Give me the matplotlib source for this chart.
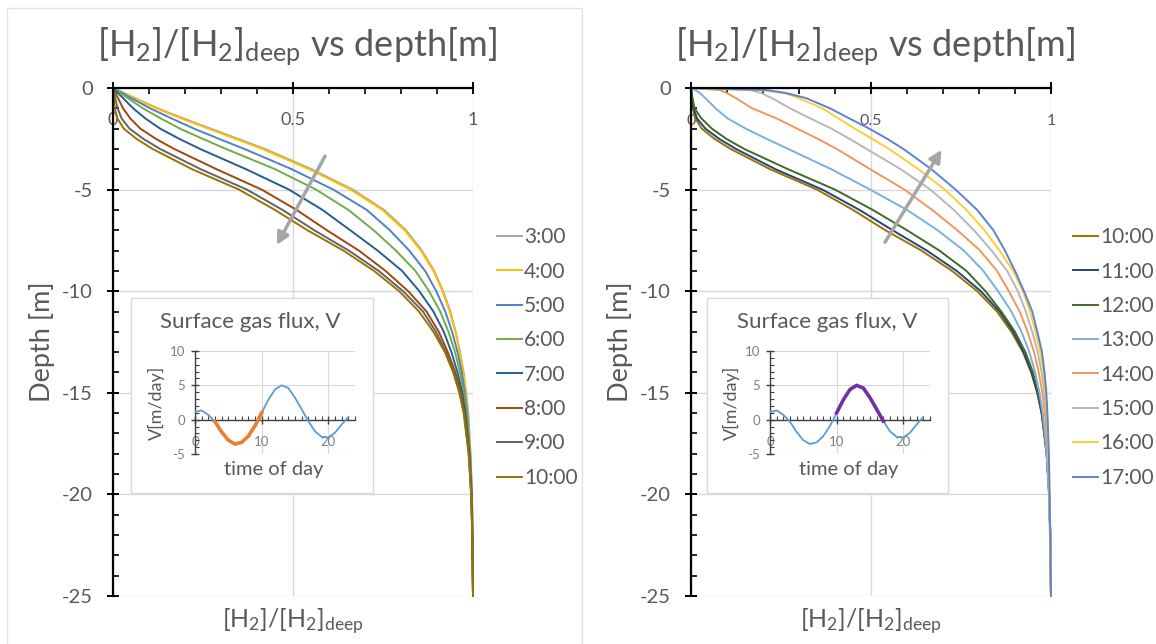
import matplotlib
matplotlib.use('Agg')
import matplotlib.pyplot as plt
from matplotlib.patches import Rectangle
from matplotlib.ticker import MultipleLocator

plt.rcParams['font.family'] = ['Lato', 'DejaVu Sans']
plt.rcParams['mathtext.default'] = 'regular'
plt.rcParams['axes.unicode_minus'] = False

# - Data
depth = [0, -0.1, -0.25, -0.5, -1, -1.5, -2, -2.5, -3, -4, -5, -6, -7, -8, -9,
         -10, -11, -12, -13, -14, -15, -16, -18, -20, -22, -25]

left_labels = ['3:00', '4:00', '5:00', '6:00', '7:00', '8:00', '9:00', '10:00']
h2_0300 = [0, 0.013, 0.031, 0.062, 0.124, 0.196, 0.271, 0.347, 0.422, 0.552, 0.666, 0.753, 0.814,
           0.858, 0.892, 0.917, 0.937, 0.952, 0.964, 0.974, 0.981, 0.987, 0.993, 0.997, 0.999, 1.0]
h2_0400 = [0, 0.012, 0.03, 0.06, 0.12, 0.19, 0.265, 0.34, 0.415, 0.545, 0.66, 0.748, 0.81,
           0.855, 0.89, 0.915, 0.935, 0.951, 0.963, 0.973, 0.98, 0.986, 0.993, 0.997, 0.999, 1.0]
h2_0500 = [0, 0.010, 0.026, 0.051, 0.103, 0.163, 0.225, 0.294, 0.365, 0.497, 0.612, 0.705, 0.769,
           0.823, 0.867, 0.898, 0.923, 0.942, 0.957, 0.969, 0.977, 0.984, 0.992, 0.997, 0.999, 1.0]
h2_0600 = [0, 0.008, 0.021, 0.041, 0.083, 0.133, 0.186, 0.249, 0.314, 0.451, 0.564, 0.654, 0.724,
           0.786, 0.84, 0.878, 0.909, 0.932, 0.95, 0.964, 0.974, 0.982, 0.991, 0.996, 0.999, 1.0]
h2_0700 = [0, 0.0055, 0.014, 0.028, 0.056, 0.09, 0.131, 0.184, 0.242, 0.37, 0.489, 0.582, 0.659,
           0.735, 0.803, 0.851, 0.89, 0.919, 0.94, 0.957, 0.97, 0.979, 0.99, 0.996, 0.998, 1.0]
h2_0800 = [0, 0.0028, 0.007, 0.014, 0.028, 0.048, 0.076, 0.119, 0.17, 0.288, 0.413, 0.51, 0.594,
           0.683, 0.757, 0.82, 0.871, 0.905, 0.93, 0.951, 0.966, 0.976, 0.989, 0.995, 0.998, 1.0]
h2_0900 = [0, 0.0013, 0.003, 0.006, 0.013, 0.024, 0.046, 0.084, 0.131, 0.244, 0.372, 0.471, 0.559,
           0.655, 0.738, 0.806, 0.861, 0.897, 0.925, 0.947, 0.963, 0.975, 0.988, 0.995, 0.998, 1.0]
h2_1000 = [0, 0.0005, 0.001, 0.002, 0.005, 0.012, 0.03, 0.065, 0.11, 0.22, 0.35, 0.45, 0.54,
           0.64, 0.725, 0.795, 0.85, 0.89, 0.922, 0.945, 0.962, 0.974, 0.988, 0.995, 0.998, 1.0]

right_labels = ['10:00', '11:00', '12:00', '13:00', '14:00', '15:00', '16:00', '17:00']
h2_1100 = [0, 0.0005, 0.001, 0.003, 0.007, 0.017, 0.04, 0.078, 0.125, 0.235, 0.365, 0.468, 0.56,
           0.655, 0.738, 0.805, 0.857, 0.895, 0.924, 0.946, 0.962, 0.974, 0.988, 0.995, 0.998, 1.0]
h2_1200 = [0, 0.001, 0.002, 0.004, 0.01, 0.029, 0.058, 0.098, 0.148, 0.27, 0.4, 0.505, 0.6,
           0.69, 0.765, 0.818, 0.862, 0.9, 0.929, 0.95, 0.964, 0.975, 0.988, 0.995, 0.998, 1.0]
h2_1300 = [0, 0.012, 0.025, 0.04, 0.068, 0.102, 0.152, 0.21, 0.27, 0.39, 0.498, 0.6, 0.685,
           0.758, 0.812, 0.853, 0.89, 0.918, 0.94, 0.956, 0.968, 0.977, 0.988, 0.994, 0.997, 1.0]
h2_1400 = [0, 0.08, 0.1, 0.125, 0.17, 0.238, 0.295, 0.352, 0.405, 0.498, 0.593, 0.67, 0.74,
           0.803, 0.85, 0.883, 0.913, 0.935, 0.953, 0.966, 0.976, 0.983, 0.991, 0.995, 0.998, 1.0]
h2_1500 = [0, 0.165, 0.195, 0.225, 0.275, 0.332, 0.39, 0.44, 0.488, 0.583, 0.665, 0.73, 0.786,
           0.835, 0.878, 0.908, 0.93, 0.948, 0.963, 0.974, 0.982, 0.987, 0.992, 0.995, 0.998, 1.0]
h2_1600 = [0, 0.19, 0.26, 0.30, 0.365, 0.41, 0.455, 0.503, 0.55, 0.632, 0.705, 0.765, 0.815,
           0.857, 0.895, 0.922, 0.942, 0.957, 0.97, 0.979, 0.985, 0.989, 0.993, 0.996, 0.998, 1.0]
h2_1700 = [0, 0.21, 0.265, 0.32, 0.386, 0.44, 0.495, 0.545, 0.59, 0.668, 0.735, 0.795, 0.84,
           0.872, 0.90, 0.925, 0.948, 0.962, 0.975, 0.982, 0.987, 0.99, 0.994, 0.996, 0.998, 1.0]

# surface gas flux V [m/day] for each hour of the day
hours = list(range(24))
flux = [1.1, 1.35, 0.7, -0.3, -1.8, -3.0, -3.55, -3.3, -2.4, -0.9, 1.0, 2.9,
        4.4, 5.0, 4.6, 3.2, 1.5, -0.2, -1.7, -2.5, -2.6, -1.9, -0.7, 0.4]

# arrows showing the time direction (tail, head) in data units
left_arrow = [(0.589, -3.35), (0.455, -7.73)]
right_arrow = [(0.539, -7.59), (0.696, -3.04)]

left_colors = ['#A5A5A5', '#FFC000', '#4F81CD', '#70AD47', '#255E91', '#9E480E', '#636363', '#997300']
right_colors = ['#997300', '#264478', '#43682B', '#7CAFDD', '#F1975A', '#B7B7B7', '#FFCD33', '#5B83D0']

TXT = '#595959'
GRID = '#D9D9D9'
W, H = 1156, 644
title = r'[H$_{2}$]/[H$_{2}$]$_{deep}$ vs depth[m]'
xlab = r'[H$_{2}$]/[H$_{2}$]$_{deep}$'

fig = plt.figure(figsize=(W / 100, H / 100), dpi=100)


def frac(x0, y0, x1, y1):
    # pixel box -> figure fraction
    return [x0 / W, 1 - y1 / H, (x1 - x0) / W, (y1 - y0) / H]


def main_panel(rect, labels, profiles, colors, tick_fs, leg_x, arrow):
    ax = fig.add_axes(rect)
    for lab, xs, c in zip(labels, profiles, colors):
        ax.plot(xs, depth, color=c, lw=1.4, label=lab, clip_on=False, zorder=3)
    ax.set_xlim(0, 1)
    ax.set_ylim(-25, 0)
    ax.spines['right'].set_visible(False)
    ax.spines['bottom'].set_visible(False)
    for s in ('top', 'left'):
        ax.spines[s].set_linewidth(1.6)
        ax.spines[s].set_zorder(4)
    ax.xaxis.set_major_locator(MultipleLocator(0.5))
    ax.xaxis.set_minor_locator(MultipleLocator(0.1))
    ax.yaxis.set_major_locator(MultipleLocator(5))
    ax.yaxis.set_minor_locator(MultipleLocator(1))
    ax.xaxis.set_major_formatter(lambda v, p: f'{v:g}')
    ax.tick_params(axis='x', which='both', top=True, bottom=False, labeltop=True, labelbottom=False)
    ax.tick_params(axis='x', which='major', direction='inout', length=9, width=1.4,
                   pad=-33, labelsize=tick_fs, labelcolor=TXT)
    ax.tick_params(axis='x', which='minor', direction='in', length=4, width=1.2)
    ax.tick_params(axis='y', which='major', direction='inout', length=9, width=1.4,
                   pad=10, labelsize=14.5, labelcolor=TXT)
    ax.tick_params(axis='y', which='minor', direction='in', length=4, width=1.2)
    ax.grid(True, which='major', color=GRID, lw=1)
    ax.set_axisbelow(True)
    ax.text(0.51, 1.082, title, transform=ax.transAxes, ha='center', va='center',
            fontsize=26, color=TXT)
    ax.set_ylabel('Depth [m]', fontsize=19.5, color=TXT)
    ax.yaxis.set_label_coords(-0.16, 0.5)
    ax.set_xlabel(xlab, fontsize=18, color=TXT)
    ax.xaxis.set_label_coords(0.5, -0.022)
    ax.legend(loc='upper left', bbox_to_anchor=(leg_x, 0.726), frameon=False, fontsize=15,
              labelcolor=TXT, handlelength=1.2, handletextpad=0.1, labelspacing=0.69,
              borderaxespad=0, borderpad=0)
    ax.annotate('', xy=arrow[1], xytext=arrow[0],
                arrowprops=dict(arrowstyle='-|>', color='#A6A6A6', lw=2.5,
                                mutation_scale=18, shrinkA=0, shrinkB=0))
    return ax


def inset(box, inner, t0, t1, hcolor, title_x):
    fig.add_artist(Rectangle((box[0], box[1]), box[2], box[3], transform=fig.transFigure,
                             facecolor='white', edgecolor=GRID, lw=1, zorder=1))
    ia = fig.add_axes(inner, zorder=2)
    ia.patch.set_alpha(0)
    ia.plot(hours, flux, color='#5B9BD5', lw=1.3, zorder=3)
    ia.plot(hours[t0:t1 + 1], flux[t0:t1 + 1], color=hcolor, lw=2.6, zorder=4)
    ia.set_xlim(0, 24)
    ia.set_ylim(-5, 10)
    ia.spines['top'].set_visible(False)
    ia.spines['right'].set_visible(False)
    ia.spines['bottom'].set_position(('data', 0))
    for s in ('bottom', 'left'):
        ia.spines[s].set_color('#404040')
        ia.spines[s].set_linewidth(1)
    ia.xaxis.set_major_locator(MultipleLocator(10))
    ia.xaxis.set_minor_locator(MultipleLocator(1))
    ia.yaxis.set_major_locator(MultipleLocator(5))
    ia.yaxis.set_minor_locator(MultipleLocator(1))
    ia.tick_params(which='major', direction='inout', length=6, width=1, color='#404040',
                   labelsize=9.5, labelcolor='#7F7F7F')
    ia.tick_params(which='minor', direction='in', length=3, width=0.8, color='#404040')
    ia.tick_params(axis='x', which='major', pad=9)
    ia.tick_params(axis='y', which='major', pad=4)
    ia.grid(True, which='major', color=GRID, lw=0.8)
    ia.set_axisbelow(True)
    ia.text(title_x, 1.28, 'Surface gas flux, V', transform=ia.transAxes, ha='center',
            va='center', fontsize=16, color=TXT)
    ia.set_xlabel('time of day', fontsize=14.5, color=TXT)
    ia.xaxis.set_label_coords(0.49, -0.065)
    ia.set_ylabel('V[m/day]', fontsize=13, color=TXT)
    ia.yaxis.set_label_coords(-0.19, 0.5)
    return ia


# - Panel frame (chart area border on the left chart)
fig.add_artist(Rectangle((7 / W, -0.05), (582 - 7) / W, 1.05 - 8 / H, transform=fig.transFigure,
                         fill=False, edgecolor='#E3E3E3', lw=1, zorder=-1))

# - Left chart: 3:00 .. 10:00
main_panel(frac(113, 88, 473, 596), left_labels,
           [h2_0300, h2_0400, h2_0500, h2_0600, h2_0700, h2_0800, h2_0900, h2_1000],
           left_colors, 13, 1.067, left_arrow)
inset(frac(131, 298, 373, 493), frac(195, 351, 355, 454), 3, 10, '#ED7D31', 0.344)

# - Right chart: 10:00 .. 17:00
main_panel(frac(691, 88, 1051, 596), right_labels,
           [h2_1000, h2_1100, h2_1200, h2_1300, h2_1400, h2_1500, h2_1600, h2_1700],
           right_colors, 11.5, 1.061, right_arrow)
inset(frac(707, 298, 948, 493), frac(770, 351, 930, 454), 10, 17, '#7030A0', 0.357)

fig.savefig('out.png', dpi=100)
